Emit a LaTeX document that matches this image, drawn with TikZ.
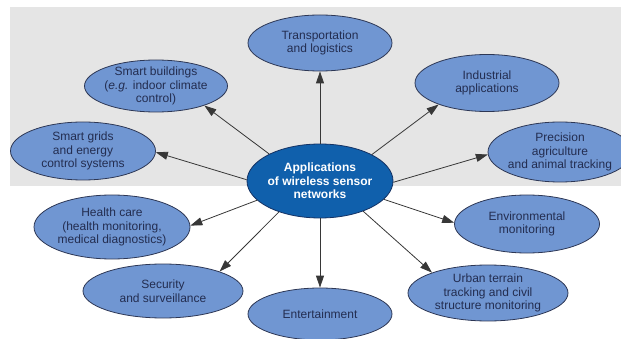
\documentclass[tikz,border=0pt]{standalone}
\usepackage{fontspec}
\setmainfont{Liberation Sans}
\usetikzlibrary{shapes.geometric,arrows.meta}
\definecolor{bggray}{RGB}{229,229,229}
\definecolor{ellfill}{RGB}{112,150,210}
\definecolor{ellline}{RGB}{45,55,85}
\definecolor{elltext}{RGB}{35,45,80}
\definecolor{hubfill}{RGB}{16,96,172}
\definecolor{hubline}{RGB}{20,50,100}
\definecolor{arrowcol}{RGB}{55,55,55}
\begin{document}
\begin{tikzpicture}[x=1pt,y=-1pt,
  app/.style={ellipse, draw=ellline, line width=0.8pt, fill=ellfill, inner sep=0pt},
  apptext/.style={text=elltext, align=center, inner sep=0pt, font=\fontsize{12}{13.5}\selectfont},
  hub/.style={ellipse, draw=hubline, line width=0.8pt, fill=hubfill, inner sep=0pt},
  hubtext/.style={text=white, align=center, inner sep=0pt, font=\fontsize{12}{13.5}\selectfont\bfseries},
  conn/.style={draw=arrowcol, line width=0.8pt, -{Triangle[length=12pt,width=8pt]}}]
\useasboundingbox (0,0) rectangle (621,339);
\fill[bggray] (10,7) rectangle (621,186);

\node[hub, minimum width=146pt, minimum height=74pt,
  label={[hubtext]center:Applications\\of wireless sensor\\networks}] (c) at (320,181) {};

\node[app, minimum width=144pt, minimum height=56pt,
  label={[apptext]center:Transportation\\and logistics}] (tr) at (320,43) {};
\node[app, minimum width=143pt, minimum height=52pt,
  label={[apptext]center:Smart buildings\\(\textit{e.g.} indoor climate\\control)}] (sb) at (156,86) {};
\node[app, minimum width=145pt, minimum height=58pt,
  label={[apptext]center:Smart grids\\and energy\\control systems}] (sg) at (83,151) {};
\node[app, minimum width=144pt, minimum height=57pt,
  label={[apptext]center:Industrial\\applications}] (in) at (487,83) {};
\node[app, minimum width=144pt, minimum height=60pt,
  label={[apptext]center:Precision\\agriculture\\and animal tracking}] (pr) at (560,152) {};
\node[app, minimum width=156pt, minimum height=64pt,
  label={[apptext]center:Health care\\(health monitoring,\\medical diagnostics)}] (hc) at (112,227) {};
\node[app, minimum width=160pt, minimum height=54pt,
  label={[apptext]center:Security\\and surveillance}] (se) at (163,291) {};
\node[app, minimum width=144pt, minimum height=52pt,
  label={[apptext]center:Entertainment}] (en) at (320,314) {};
\node[app, minimum width=145pt, minimum height=58pt,
  label={[apptext]center:Environmental\\monitoring}] (ev) at (527,224) {};
\node[app, minimum width=160pt, minimum height=56pt,
  label={[apptext]center:Urban terrain\\tracking and civil\\structure monitoring}] (ur) at (488,293) {};

\draw[conn] (c.152) -- (sb.-22);
\draw[conn] (c.179) -- (sg.-1);
\draw[conn] (c.90) -- (tr.270);
\draw[conn] (c.27) -- (in.204);
\draw[conn] (c.-1) -- (pr.182);
\draw[conn] (c.197) -- (hc.1);
\draw[conn] (c.217) -- (se.19);
\draw[conn] (c.270) -- (en.90);
\draw[conn] (c.-16) -- (ev.179);
\draw[conn] (c.-35) -- (ur.160);
\end{tikzpicture}
\end{document}
